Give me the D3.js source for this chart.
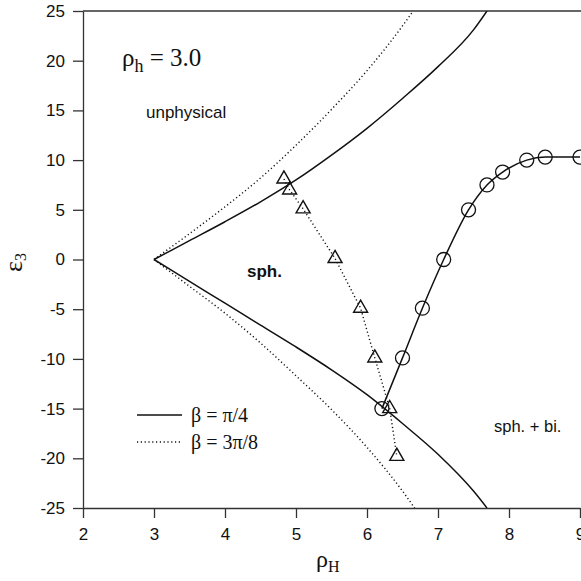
<!DOCTYPE html>
<html lang="en">
<head>
<meta charset="utf-8" />
<title>rho_h = 3.0</title>
<script src="https://d3js.org/d3.v7.min.js"></script>
<style>
  * { margin: 0; padding: 0; }
  body { background: white; }
  svg { display: block; }
  .axis text { font-family: "Liberation Sans", Arial, sans-serif; font-size: 17px; fill: #111; }
  .axis path, .axis line { stroke: #333; stroke-width: 1.3px; }
  .serif { font-family: "Liberation Serif", "Times New Roman", serif; fill: #111; }
  .sans { font-family: "Liberation Sans", Arial, sans-serif; fill: #111; }
</style>
</head>
<body>
<div id="chart"></div>
<script>

// boundary curves, beta = pi/4 (solid)
var solidUpper = [[3, 0], [3.5, 1.9], [4, 3.8], [4.5, 5.8], [5, 8.0], [5.5, 10.5],
                  [6, 13.2], [6.5, 16.2], [7, 19.4], [7.5, 23.1], [7.69, 25]];
var solidLower = [[3, 0], [3.5, -2.2], [4, -4.4], [4.5, -6.6], [5, -8.8], [5.5, -11.1],
                  [6, -13.6], [6.5, -16.5], [7, -19.6], [7.5, -23.3], [7.69, -25]];

// boundary curves, beta = 3pi/8 (dotted)
var dotUpper = [[3, 0], [3.5, 2.6], [4, 5.3], [4.5, 8.2], [5, 11.5], [5.5, 15.1],
                [6, 19.0], [6.5, 23.5], [6.65, 25]];
var dotLower = [[3, 0], [3.5, -2.7], [4, -5.4], [4.5, -8.4], [5, -11.7], [5.5, -15.1],
                [6, -18.9], [6.5, -23.3], [6.67, -25]];

// data points
var circles = [[6.21, -15], [6.5, -9.9], [6.78, -4.9], [7.08, 0], [7.43, 5], [7.69, 7.5],
               [7.91, 8.8], [8.25, 10.0], [8.51, 10.3], [9.0, 10.3]];
var triangles = [[4.83, 8.1], [4.91, 7.0], [5.10, 5.1], [5.55, 0.1], [5.91, -4.9],
                 [6.11, -9.9], [6.32, -15], [6.42, -19.8]];

var xTicks = [2, 3, 4, 5, 6, 7, 8, 9];
var yTicks = [-25, -20, -15, -10, -5, 0, 5, 10, 15, 20, 25];

var W = 581, H = 581;
var mLeft = 83, mRight = 580, mTop = 11, mBottom = 508;
var dots = "1.2,2.6";

var x = d3.scaleLinear().domain([2, 9]).range([mLeft, mRight]);
var y = d3.scaleLinear().domain([-25, 25]).range([mBottom, mTop]);

var svg = d3.select("#chart").append("svg")
    .attr("width", W)
    .attr("height", H);

svg.append("defs").append("clipPath").attr("id", "plotclip")
  .append("rect")
    .attr("x", mLeft).attr("y", mTop)
    .attr("width", W - mLeft).attr("height", mBottom - mTop);

// axes (plain hyphen minus, like the original)
var plain = function(d) { return String(d); };

svg.append("g")
    .attr("class", "axis")
    .attr("transform", "translate(0," + mBottom + ")")
    .call(d3.axisBottom(x).tickValues(xTicks).tickFormat(plain)
      .tickSize(10).tickSizeOuter(0).tickPadding(10));

svg.append("g")
    .attr("class", "axis")
    .attr("transform", "translate(" + mLeft + ",0)")
    .call(d3.axisLeft(y).tickValues(yTicks).tickFormat(plain)
      .tickSize(10).tickSizeOuter(0).tickPadding(8));

// top frame
svg.append("line")
    .attr("x1", mLeft).attr("x2", W)
    .attr("y1", mTop).attr("y2", mTop)
    .attr("stroke", "#333").attr("stroke-width", 1.3);

var plot = svg.append("g").attr("clip-path", "url(#plotclip)");

var smooth = d3.line()
    .x(function(d) { return x(d[0]); })
    .y(function(d) { return y(d[1]); })
    .curve(d3.curveMonotoneX);

var straight = d3.line()
    .x(function(d) { return x(d[0]); })
    .y(function(d) { return y(d[1]); });

[solidUpper, solidLower].forEach(function(c) {
  plot.append("path").datum(c)
      .attr("d", smooth)
      .attr("fill", "none").attr("stroke", "#111").attr("stroke-width", 1.5);
});

[dotUpper, dotLower].forEach(function(c) {
  plot.append("path").datum(c)
      .attr("d", smooth)
      .attr("fill", "none").attr("stroke", "#111").attr("stroke-width", 1.4)
      .attr("stroke-dasharray", dots);
});

// triangles series with dotted connecting line
plot.append("path").datum(triangles)
    .attr("d", straight)
    .attr("fill", "none").attr("stroke", "#111").attr("stroke-width", 1.4)
    .attr("stroke-dasharray", dots);

svg.selectAll(".tri")
    .data(triangles)
  .enter().append("path")
    .attr("class", "tri")
    .attr("transform", function(d) { return "translate(" + x(d[0]) + "," + y(d[1]) + ")"; })
    .attr("d", d3.symbol().type(d3.symbolTriangle).size(85))
    .attr("fill", "none").attr("stroke", "#111").attr("stroke-width", 1.4);

// circles series with solid connecting line
svg.append("path").datum(circles)
    .attr("d", smooth)
    .attr("fill", "none").attr("stroke", "#111").attr("stroke-width", 1.5);

svg.selectAll(".dot")
    .data(circles)
  .enter().append("circle")
    .attr("class", "dot")
    .attr("cx", function(d) { return x(d[0]); })
    .attr("cy", function(d) { return y(d[1]); })
    .attr("r", 7)
    .attr("fill", "none").attr("stroke", "#111").attr("stroke-width", 1.3);

// annotations
var title = svg.append("text").attr("class", "serif")
    .attr("x", 122).attr("y", 66).style("font-size", "25px");
title.append("tspan").text("ρ");
title.append("tspan").attr("dy", 6).style("font-size", "18px").text("h");
title.append("tspan").attr("dy", -6).text(" = 3.0");

svg.append("text").attr("class", "sans")
    .attr("x", 146).attr("y", 118).style("font-size", "17px")
    .text("unphysical");

svg.append("text").attr("class", "sans")
    .attr("x", 247).attr("y", 277).style("font-size", "17px").style("font-weight", "bold")
    .text("sph.");

svg.append("text").attr("class", "sans")
    .attr("x", 494).attr("y", 432).style("font-size", "16.5px")
    .text("sph. + bi.");

// legend
var legend = [{label: "β = π/4", dash: null, y: 415},
              {label: "β = 3π/8", dash: dots, y: 442}];
legend.forEach(function(l) {
  svg.append("line")
      .attr("x1", 137).attr("x2", 182)
      .attr("y1", l.y).attr("y2", l.y)
      .attr("stroke", "#111").attr("stroke-width", l.dash ? 1.4 : 1.5)
      .attr("stroke-dasharray", l.dash);
  svg.append("text").attr("class", "serif")
      .attr("x", 191).attr("y", l.y + 7).style("font-size", "20px")
      .text(l.label);
});

// axis labels
var xl = svg.append("text").attr("class", "serif")
    .attr("x", 316).attr("y", 567).style("font-size", "24px");
xl.append("tspan").text("ρ");
xl.append("tspan").attr("dy", 5).style("font-size", "16px").text("H");

var yl = svg.append("text").attr("class", "serif")
    .attr("transform", "translate(22,272) rotate(-90)")
    .style("font-size", "26px");
yl.append("tspan").text("ε");
yl.append("tspan").attr("dy", 4).style("font-size", "16px").text("3");

</script>
</body>
</html>
